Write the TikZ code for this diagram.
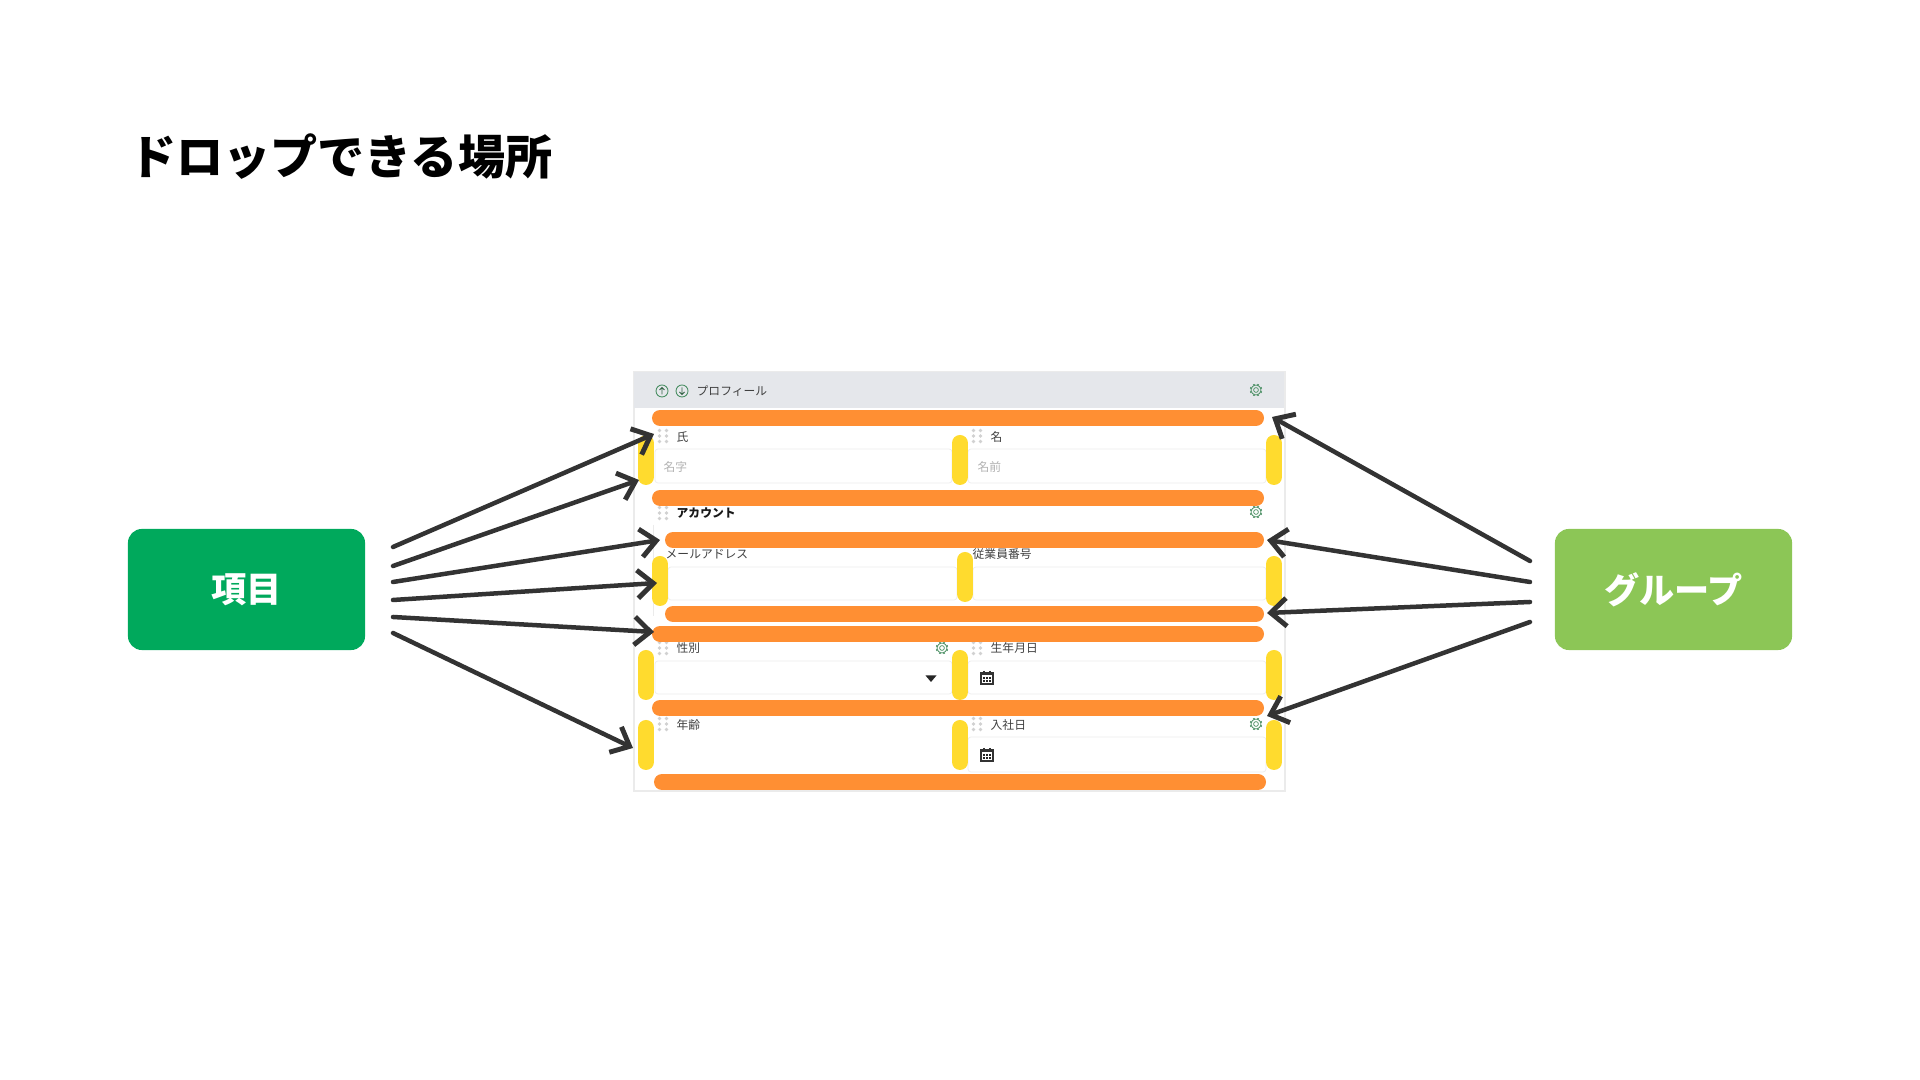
\documentclass[tikz,border=0pt]{standalone}
\usepackage{fontspec}
\setmainfont{Noto Sans CJK JP}
\usetikzlibrary{arrows.meta}

\definecolor{item green}{HTML}{00A95C}
\definecolor{group green}{HTML}{8CC656}
\definecolor{icon green}{HTML}{4A8F63}
\definecolor{header gray}{HTML}{E5E7EB}
\tikzstyle{drop orange}=[draw={rgb,255:red,255;green,143;blue,51}, line width=0.16cm, line cap=round]
\tikzstyle{drop yellow}=[draw={rgb,255:red,255;green,219;blue,46}, line width=0.16cm, line cap=round]
\tikzstyle{source}=[text=white, minimum width=2.37cm, minimum height=1.21cm, rounded corners=0.14cm, font=\fontsize{10pt}{12pt}\selectfont\bfseries]
\tikzstyle{label}=[anchor=west, inner sep=0pt, text=black!75, font=\fontsize{3.35pt}{4pt}\selectfont]
\tikzstyle{hint}=[label, text=black!30]
\tikzstyle{field}=[draw=black!7, line width=0.2pt, rounded corners=0.03cm]
\tikzstyle{pointer}=[draw=black!80, line width=0.045cm, line cap=round, -{Straight Barb[length=4.5pt, width=8pt, line width=1.4pt]}]

\tikzset{
	gear/.pic={
		\draw[icon green, line width=0.2pt] (0,0) circle[radius=2.4];
		\draw[icon green, line width=0.2pt] (0,0) circle[radius=5];
		\foreach \a in {0, 45, ..., 315}{ \draw[icon green, line width=0.5pt] (\a+22.5:5) -- (\a+22.5:6.2); }
	},
	handle/.pic={
		\foreach \u in {-3.5, 3.5}{ \foreach \v in {-5.5, 0, 5.5}{ \fill[black!18] (\u,\v) circle[radius=1.8]; } }
	},
	calendar/.pic={
		\draw[black!80, line width=0.3pt, fill=white] (-6,-5) rectangle (6,6);
		\fill[black!80] (-6,-5) rectangle (6,-2.5);
		\foreach \u in {-3.2, 0, 3.2}{ \foreach \v in {0, 3.2}{ \fill[black!85] (\u-1,\v-1) rectangle (\u+1,\v+1); } }
		\foreach \u in {-3, 3}{ \draw[black!80, line width=0.3pt] (\u,-7) -- (\u,-5); }
	},
	updown/.pic={
		\draw[icon green, line width=0.25pt] (0,0) circle[radius=6];
		\draw[icon green!70!black, line width=0.25pt] (0,3.5) -- (0,-3.5) (-2.5,-1) -- (0,-3.5) -- (2.5,-1);
	}
}

\begin{document}
\begin{tikzpicture}[x=0.01cm, y=-0.01cm]
	\useasboundingbox (0,0) rectangle (1920,1080);

	% Title and the two sources
	\node[anchor=west, inner sep=0pt, font=\fontsize{13.4pt}{16pt}\selectfont\bfseries] (title) at (128.5,157) {ドロップできる場所};
	\node[source, fill=item green] (item) at (246.5,589.5) {\raisebox{-0.4pt}{項目}};
	\node[source, fill=group green] (group) at (1673.5,589.5) {\raisebox{-0.4pt}{グループ}};

	% Form panel
	\fill[white] (634,372) rectangle (1285,791);
	\draw[black!8, line width=0.4pt] (634,372) rectangle (1285,791);
	\fill[header gray] (634,372) rectangle (1284,408);
	\draw[black!8, line width=0.3pt] (653.5,525) -- (653.5,616);

	% Input fields
	\draw[field] (655,449) rectangle (952,483);
	\draw[field] (968,449) rectangle (1266,483);
	\draw[field] (668,567) rectangle (957,600);
	\draw[field] (973,567) rectangle (1266,600);
	\draw[field] (655,661) rectangle (952,694);
	\draw[field] (968,661) rectangle (1266,694);
	\draw[field] (968,737) rectangle (1266,772);

	% Header row
	\pic at (662,391) {updown};
	\pic at (682,391) [rotate=180] {updown};
	\pic at (1256,390) {gear};
	\node[label] (profile) at (696,391) {プロフィール};

	% Labels of the form
	\node[label] (family) at (676,437) {氏};
	\node[label] (given) at (990,437) {名};
	\node[hint] (familyhint) at (663,467) {名字};
	\node[hint] (givenhint) at (977,467) {名前};
	\node[label, font=\fontsize{3.35pt}{4pt}\selectfont\bfseries, text=black!90] (account) at (676,513) {アカウント};
	\node[label] (mail) at (665,554) {メールアドレス};
	\node[label] (number) at (972,554) {従業員番号};
	\node[label] (gender) at (676,648) {性別};
	\node[label] (birth) at (990,648) {生年月日};
	\node[label] (age) at (676,725) {年齢};
	\node[label] (joined) at (990,725) {入社日};

	% Small icons
	\foreach \x/\y in {663/436, 977/436, 663/513, 663/648, 977/648, 663/724, 977/724}{ \pic at (\x,\y) {handle}; }
	\foreach \x/\y in {1256/512, 942/648, 1256/724}{ \pic at (\x,\y) {gear}; }
	\foreach \y in {678, 755}{ \pic at (987,\y) {calendar}; }
	\fill[black!85] (925.5,675.5) -- (936.5,675.5) -- (931,682) -- cycle;

	% Drop places inside a row
	\foreach \x/\y in {646/435, 960/435, 1274/435, 660/556, 965/552, 1274/556, 646/650, 960/650, 1274/650, 646/720, 960/720, 1274/720}{
		\draw[drop yellow] (\x,\y+8) -- (\x,\y+42);
	}

	% Drop places between rows
	\foreach \a/\b/\y in {660/1256/418, 660/1256/498, 673/1256/540, 673/1256/614, 660/1256/634, 660/1256/708, 662/1258/782}{
		\draw[drop orange] (\a,\y) -- (\b,\y);
	}

	% Ends of the arrows
	\coordinate (itemout1) at (393,547);
	\coordinate (itemout2) at (393,566);
	\coordinate (itemout3) at (393,582);
	\coordinate (itemout4) at (393,600);
	\coordinate (itemout5) at (393,617);
	\coordinate (itemout6) at (393,633);
	\coordinate (itemin1) at (654,434);
	\coordinate (itemin2) at (639,480);
	\coordinate (itemin3) at (660,540);
	\coordinate (itemin4) at (657,583);
	\coordinate (itemin5) at (654,632);
	\coordinate (itemin6) at (633,748);
	\coordinate (groupout1) at (1530,561);
	\coordinate (groupout2) at (1530,582);
	\coordinate (groupout3) at (1530,602);
	\coordinate (groupout4) at (1530,622);
	\coordinate (groupin1) at (1272,417);
	\coordinate (groupin2) at (1267,540);
	\coordinate (groupin3) at (1267,613);
	\coordinate (groupin4) at (1267,716);

	\foreach \i in {1, 2, 3, 4, 5, 6}{ \draw[pointer] (itemout\i) -- (itemin\i); }
	\foreach \i in {1, 2, 3, 4}{ \draw[pointer] (groupout\i) -- (groupin\i); }
\end{tikzpicture}
\end{document}
